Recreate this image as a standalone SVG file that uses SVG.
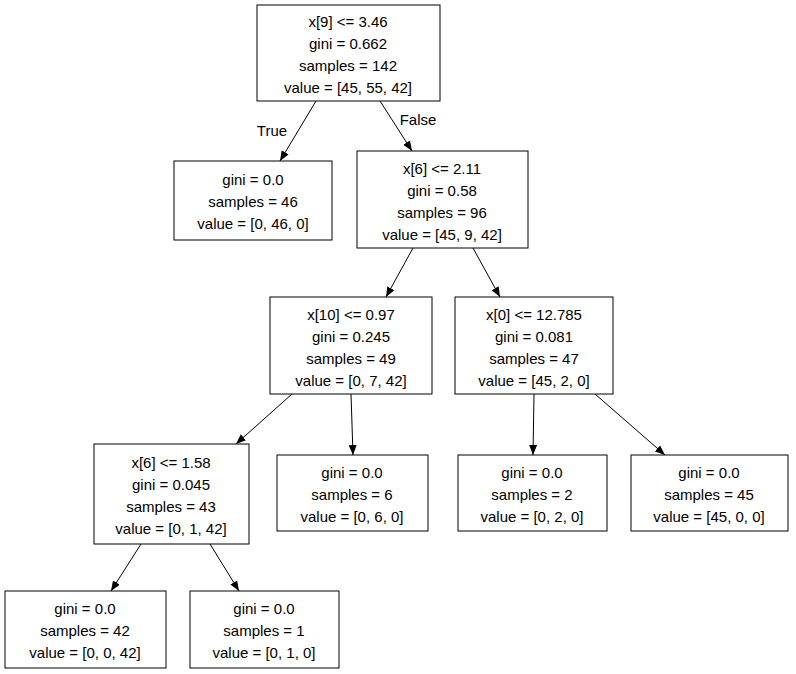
<svg xmlns="http://www.w3.org/2000/svg" width="796" height="674" viewBox="0 0 796 674">
<style>
rect{fill:#fff;stroke:#000;stroke-width:1}
text{font-family:"Liberation Sans",Arial,sans-serif;font-size:15px;text-anchor:middle;fill:#000}
.e line{stroke:#000;stroke-width:1}
</style>
<defs><marker id="a" viewBox="0 0 10 10" refX="10" refY="5" markerWidth="10" markerHeight="10" markerUnits="userSpaceOnUse" orient="auto"><path d="M0,1 L10,5 L0,9 z" fill="#000"/></marker></defs>
<rect x="0" y="0" width="796" height="674" style="stroke:none"/>
<g class="e">
<line x1="316" y1="101" x2="280" y2="161" marker-end="url(#a)"/>
<line x1="380" y1="101" x2="412" y2="151" marker-end="url(#a)"/>
<line x1="413" y1="248" x2="386" y2="297" marker-end="url(#a)"/>
<line x1="473" y1="248" x2="500" y2="297" marker-end="url(#a)"/>
<line x1="292" y1="394" x2="236" y2="444" marker-end="url(#a)"/>
<line x1="351" y1="394" x2="353" y2="455" marker-end="url(#a)"/>
<line x1="534" y1="394" x2="533" y2="455" marker-end="url(#a)"/>
<line x1="595" y1="394" x2="665" y2="455" marker-end="url(#a)"/>
<line x1="141" y1="544" x2="111" y2="591" marker-end="url(#a)"/>
<line x1="210" y1="544" x2="239" y2="591" marker-end="url(#a)"/>
<text x="272" y="136">True</text>
<text x="418" y="125">False</text>
</g>
<g id="n0"><rect x="257" y="5" width="183" height="96"/><text x="348" y="27">x[9] &lt;= 3.46</text><text x="348" y="49">gini = 0.662</text><text x="348" y="71">samples = 142</text><text x="348" y="93">value = [45, 55, 42]</text></g>
<g id="n1"><rect x="174" y="161" width="158" height="79"/><text x="253" y="185">gini = 0.0</text><text x="253" y="207">samples = 46</text><text x="253" y="229">value = [0, 46, 0]</text></g>
<g id="n2"><rect x="357" y="151" width="171" height="97"/><text x="442" y="174">x[6] &lt;= 2.11</text><text x="442" y="196">gini = 0.58</text><text x="442" y="218">samples = 96</text><text x="442" y="240">value = [45, 9, 42]</text></g>
<g id="n3"><rect x="270" y="297" width="162" height="97"/><text x="351" y="320">x[10] &lt;= 0.97</text><text x="351" y="342">gini = 0.245</text><text x="351" y="364">samples = 49</text><text x="351" y="386">value = [0, 7, 42]</text></g>
<g id="n4"><rect x="455" y="297" width="158" height="97"/><text x="534" y="320">x[0] &lt;= 12.785</text><text x="534" y="342">gini = 0.081</text><text x="534" y="364">samples = 47</text><text x="534" y="386">value = [45, 2, 0]</text></g>
<g id="n5"><rect x="94" y="444" width="155" height="100"/><text x="171" y="468">x[6] &lt;= 1.58</text><text x="171" y="490">gini = 0.045</text><text x="171" y="512">samples = 43</text><text x="171" y="534">value = [0, 1, 42]</text></g>
<g id="n6"><rect x="277" y="455" width="151" height="76"/><text x="352" y="478">gini = 0.0</text><text x="352" y="500">samples = 6</text><text x="352" y="522">value = [0, 6, 0]</text></g>
<g id="n7"><rect x="458" y="455" width="149" height="76"/><text x="532" y="478">gini = 0.0</text><text x="532" y="500">samples = 2</text><text x="532" y="522">value = [0, 2, 0]</text></g>
<g id="n8"><rect x="631" y="455" width="157" height="76"/><text x="709" y="478">gini = 0.0</text><text x="709" y="500">samples = 45</text><text x="709" y="522">value = [45, 0, 0]</text></g>
<g id="n9"><rect x="5" y="591" width="161" height="77"/><text x="85" y="614">gini = 0.0</text><text x="85" y="636">samples = 42</text><text x="85" y="658">value = [0, 0, 42]</text></g>
<g id="n10"><rect x="190" y="591" width="149" height="77"/><text x="264" y="614">gini = 0.0</text><text x="264" y="636">samples = 1</text><text x="264" y="658">value = [0, 1, 0]</text></g>
</svg>
